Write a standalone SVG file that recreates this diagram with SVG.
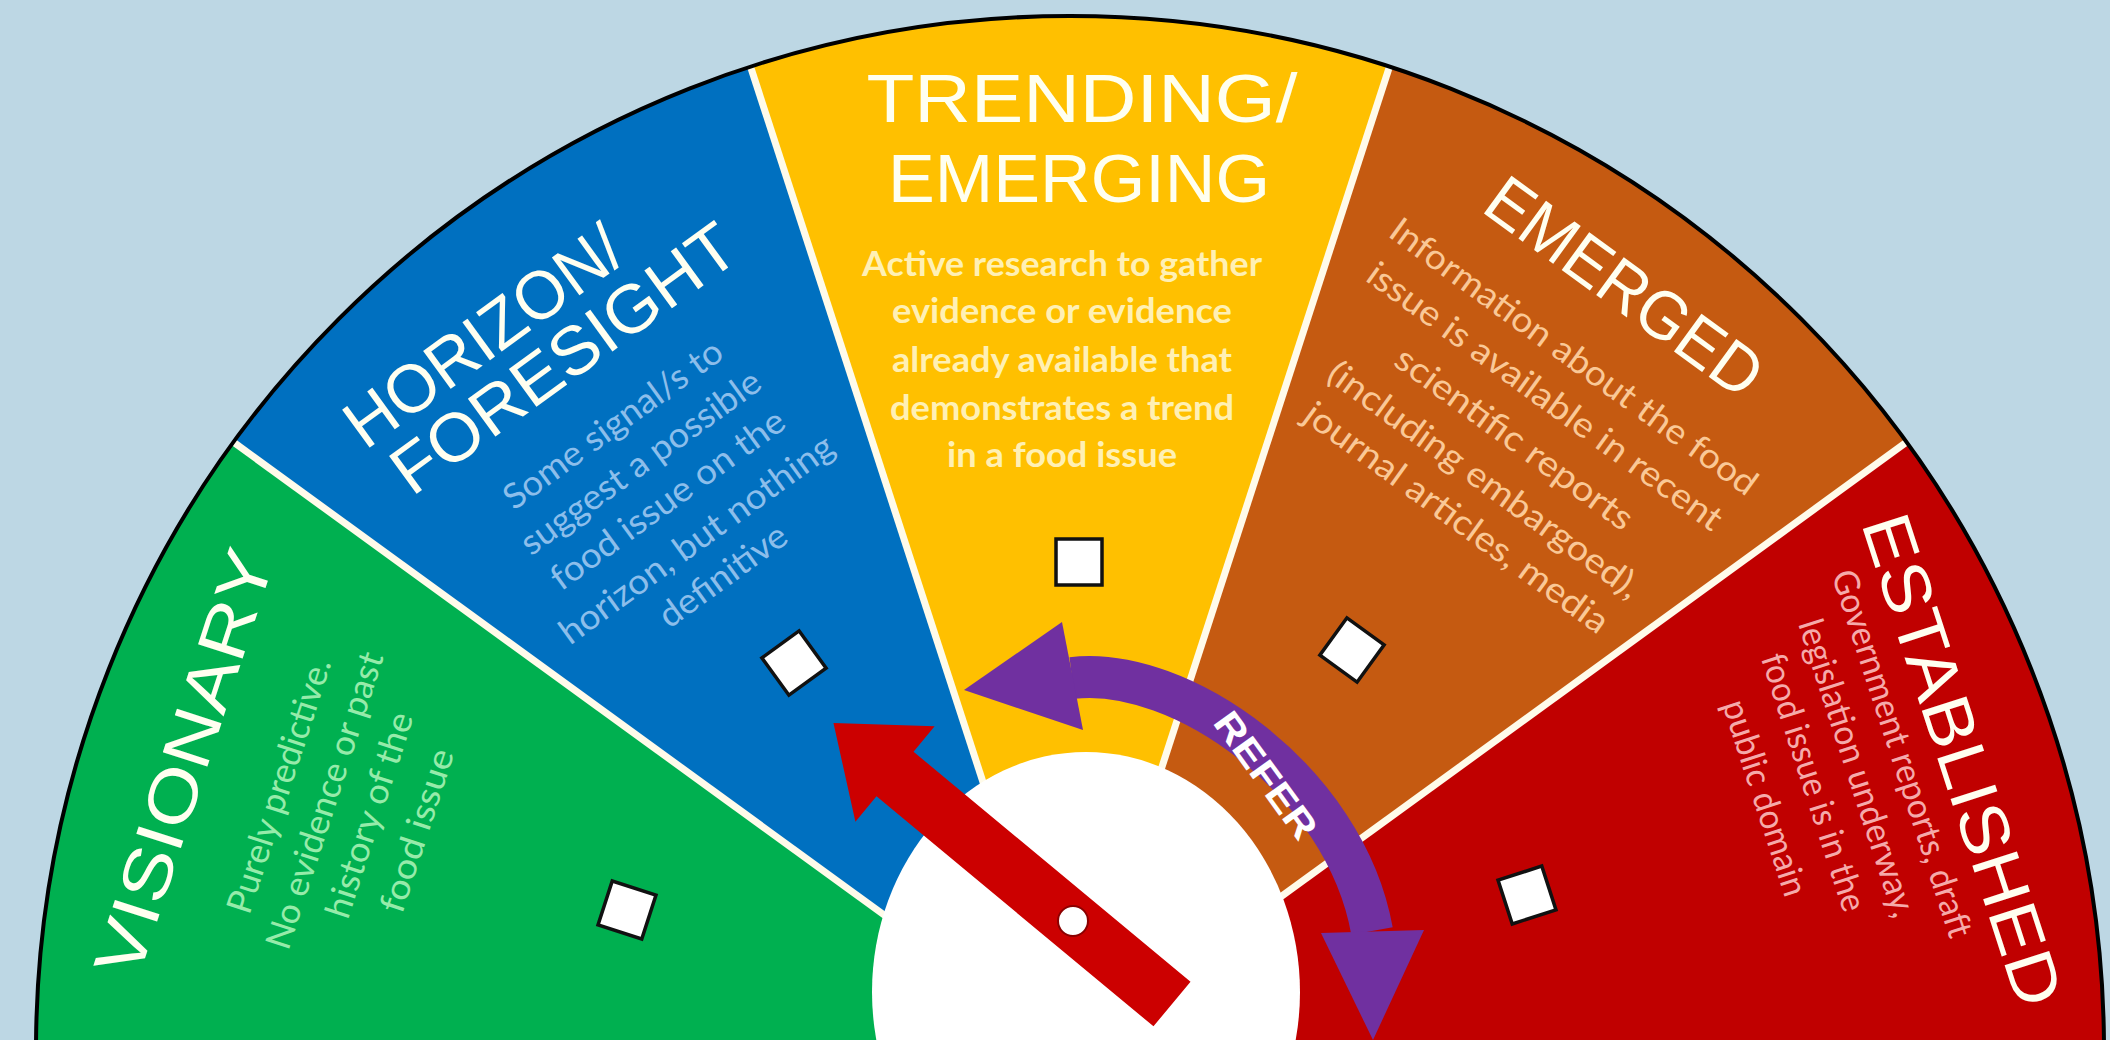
<svg xmlns="http://www.w3.org/2000/svg" width="2110" height="1040" viewBox="0 0 2110 1040">
  <style>
    .title { font-family: "Liberation Sans", Arial, sans-serif; font-size: 68px; fill: #FFFFF0; text-anchor: middle; }
    .body { font-family: Lato, "Open Sans", "Liberation Sans", sans-serif; font-size: 35px; text-anchor: middle; white-space: pre; }
    .divider { stroke: #FFFBEA; stroke-width: 7; }
    .box { fill: #FFFFFF; stroke: #111111; stroke-width: 3.5; }
  </style>
  <rect width="2110" height="1040" fill="#BDD7E4"/>

  <g id="sectors">
    <path id="sector-visionary" d="M1070,1050 L36,1050 A1034,1034 0 0 1 233.5,442.2 Z" fill="#00B050"/>
    <path id="sector-horizon" d="M1070,1050 L233.5,442.2 A1034,1034 0 0 1 750.5,66.6 Z" fill="#0070C0"/>
    <path id="sector-trending" d="M1070,1050 L750.5,66.6 A1034,1034 0 0 1 1389.5,66.6 Z" fill="#FFC000"/>
    <path id="sector-emerged" d="M1070,1050 L1389.5,66.6 A1034,1034 0 0 1 1906.5,442.2 Z" fill="#C55A11"/>
    <path id="sector-established" d="M1070,1050 L1906.5,442.2 A1034,1034 0 0 1 2104,1050 Z" fill="#C00000"/>
    <line class="divider" x1="1070" y1="1050" x2="233.5" y2="442.2"/>
    <line class="divider" x1="1070" y1="1050" x2="750.5" y2="66.6"/>
    <line class="divider" x1="1070" y1="1050" x2="1389.5" y2="66.6"/>
    <line class="divider" x1="1070" y1="1050" x2="1906.5" y2="442.2"/>
    <path d="M36,1050 A1034,1034 0 0 1 2104,1050" fill="none" stroke="#000000" stroke-width="4"/>
  </g>

  <g id="node-visionary" transform="rotate(-72 1070 1050)">
    <text class="title" x="1070" y="142" textLength="444" lengthAdjust="spacingAndGlyphs">VISIONARY</text>
    <g class="body" fill="#96EBAA">
      <text x="1077" y="228" textLength="266" lengthAdjust="spacingAndGlyphs">Purely predictive.</text>
      <text x="1077" y="276" textLength="310" lengthAdjust="spacingAndGlyphs">No evidence or past</text>
      <text x="1077" y="323" textLength="214" lengthAdjust="spacingAndGlyphs">history of the</text>
      <text x="1077" y="373" textLength="170" lengthAdjust="spacingAndGlyphs">food  issue</text>
    </g>
  </g>
  <rect class="box" x="604" y="887" width="46" height="46" transform="rotate(18 627 910)"/>

  <g id="node-horizon" transform="rotate(-36 1070 1050)">
    <text class="title" x="1015" y="151" textLength="326" lengthAdjust="spacingAndGlyphs">HORIZON/</text>
    <text class="title" x="1067" y="216" textLength="409" lengthAdjust="spacingAndGlyphs">FORESIGHT</text>
    <g class="body" fill="#8CBEEB">
      <text x="1068" y="287" textLength="262" lengthAdjust="spacingAndGlyphs">Some signal/s to</text>
      <text x="1068" y="334" textLength="288" lengthAdjust="spacingAndGlyphs">suggest a possible</text>
      <text x="1068" y="380" textLength="281" lengthAdjust="spacingAndGlyphs">food issue on the</text>
      <text x="1068" y="429" textLength="330" lengthAdjust="spacingAndGlyphs">horizon, but nothing</text>
      <text x="1068" y="474" textLength="150" lengthAdjust="spacingAndGlyphs">definitive</text>
    </g>
  </g>
  <rect class="box" x="771" y="640" width="46" height="46" transform="rotate(-36 794 663)"/>

  <g id="node-trending">
    <text class="title" x="1082" y="122" textLength="431" lengthAdjust="spacingAndGlyphs">TRENDING/</text>
    <text class="title" x="1079" y="202" textLength="382" lengthAdjust="spacingAndGlyphs">EMERGING</text>
    <g class="body" fill="#FFF0B4" font-weight="bold">
      <text x="1062" y="276" textLength="400" lengthAdjust="spacingAndGlyphs">Active research to gather</text>
      <text x="1062" y="323" textLength="340" lengthAdjust="spacingAndGlyphs">evidence or evidence</text>
      <text x="1062" y="372" textLength="340" lengthAdjust="spacingAndGlyphs">already available that</text>
      <text x="1062" y="420" textLength="344" lengthAdjust="spacingAndGlyphs">demonstrates a trend</text>
      <text x="1062" y="467" textLength="230" lengthAdjust="spacingAndGlyphs">in a food issue</text>
    </g>
  </g>
  <rect class="box" x="1056" y="539" width="46" height="46"/>

  <g id="node-emerged" transform="rotate(36 1070 1050)">
    <text class="title" x="1070" y="130" textLength="324" lengthAdjust="spacingAndGlyphs">EMERGED</text>
    <g class="body" fill="#FAC896">
      <text x="1070" y="205" textLength="445" lengthAdjust="spacingAndGlyphs">Information about the food</text>
      <text x="1070" y="254" textLength="430" lengthAdjust="spacingAndGlyphs">issue is available in recent</text>
      <text x="1070" y="306" textLength="285" lengthAdjust="spacingAndGlyphs">scientific reports</text>
      <text x="1070" y="357" textLength="377" lengthAdjust="spacingAndGlyphs">(including embargoed),</text>
      <text x="1070" y="404" textLength="367" lengthAdjust="spacingAndGlyphs">journal articles, media</text>
    </g>
  </g>
  <rect class="box" x="1329" y="627" width="46" height="46" transform="rotate(36 1352 650)"/>

  <g id="node-established" transform="rotate(72 1070 1050)">
    <text class="title" x="1070" y="135" textLength="513" lengthAdjust="spacingAndGlyphs">ESTABLISHED</text>
    <g class="body" fill="#F5AAAA">
      <text x="1045" y="179" textLength="384" lengthAdjust="spacingAndGlyphs">Government reports, draft</text>
      <text x="1045" y="226" textLength="311" lengthAdjust="spacingAndGlyphs">legislation underway,</text>
      <text x="1045" y="272" textLength="269" lengthAdjust="spacingAndGlyphs">food issue is in the</text>
      <text x="1045" y="323" textLength="204" lengthAdjust="spacingAndGlyphs">public domain</text>
    </g>
  </g>
  <rect class="box" x="1504" y="872" width="46" height="46" transform="rotate(72 1527 895)"/>

  <g id="hub">
    <ellipse cx="1086" cy="992" rx="214" ry="240" fill="#FFFFFF"/>
  </g>

  <g id="connectors">
    <path d="M1072,678 C1180,665 1345,780 1372,931" fill="none" stroke="#7030A0" stroke-width="42"/>
    <polygon points="964,690 1062,622 1083,730" fill="#7030A0"/>
    <polygon points="1373,1040 1321,933 1424,930" fill="#7030A0"/>
    <text x="1266" y="788" transform="rotate(54 1266 775)" font-family="'Liberation Sans', Arial, sans-serif" font-weight="bold" font-size="37" fill="#FFFFFF" text-anchor="middle" textLength="148" lengthAdjust="spacingAndGlyphs">REFER</text>
  </g>

  <g id="pointer">
    <g transform="translate(1172,1004) rotate(-140.3)">
      <polygon points="0,-29 360,-29 360,-62 440,0 360,62 360,29 0,29" fill="#CC0000"/>
    </g>
    <circle cx="1073" cy="921" r="15" fill="#FFFFFF" stroke="#8B0000" stroke-width="2"/>
  </g>
</svg>
